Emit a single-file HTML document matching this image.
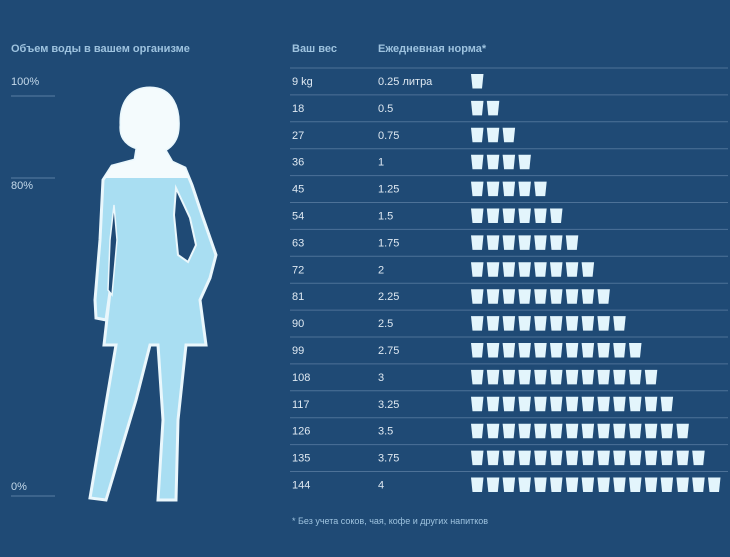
<!DOCTYPE html>
<html><head><meta charset="utf-8"><style>
body{margin:0;background:#1f4a75;width:730px;height:557px;overflow:hidden;font-family:"Liberation Sans",sans-serif}
svg{position:absolute;left:0;top:0}
</style></head><body>
<svg width="730" height="557">
<defs><clipPath id="body"><path id="shape" d="M150,88 C172,88 180,108 178,130 C177,140 172,146 165,150 L172,162 L185,168 L192,185 L202,215 L216,255 L210,278 L200,300 L206,345 L186,345 L178,420 L176,500 L158,500 L163,420 L158,345 L150,345 L136,400 L106,500 L90,498 L116,345 L104,345 L110,292 L106,320 L96,318 L95,300 L100,240 L103,180 L112,166 L135,160 L137,148 C124,144 120,135 121,125 C120,103 130,88 150,88 Z"/></clipPath></defs>
<g>
<use href="#shape" fill="#a9def2" stroke="#eaf7fc" stroke-width="3"/>
<rect x="80" y="80" width="150" height="98" fill="#f4fbfd" clip-path="url(#body)"/>
<path d="M176,188 L190,218 L196,245 L188,262 L178,255 L174,215 Z" fill="#1f4a75" stroke="#eaf7fc" stroke-width="2"/>
<path d="M114,205 L117,240 L112,295 L108,290 L110,240 Z" fill="#1f4a75" stroke="#eaf7fc" stroke-width="1.5"/>
</g>
<text x="11" y="52" fill="#9ec3df" font-size="11" font-weight="bold">Объем воды в вашем организме</text>
<g fill="#c4d9ea" font-size="11">
<text x="11" y="85">100%</text><line x1="11" y1="96" x2="55" y2="96" stroke="#5a7fa3"/>
<text x="11" y="189">80%</text><line x1="11" y1="178" x2="55" y2="178" stroke="#5a7fa3"/>
<text x="11" y="490">0%</text><line x1="11" y1="496" x2="55" y2="496" stroke="#5a7fa3"/>
</g>
<text x="292" y="52" fill="#9ec3df" font-size="11" font-weight="bold">Ваш вес</text>
<text x="378" y="52" fill="#9ec3df" font-size="11" font-weight="bold">Ежедневная норма*</text>
<text x="292" y="524" fill="#9ec3df" font-size="9">* Без учета соков, чая, кофе и других напитков</text>
<g id="rows"></g>
</svg>
<script>
const weights=["9 kg","18","27","36","45","54","63","72","81","90","99","108","117","126","135","144"];
const liters=["0.25 литра","0.5","0.75","1","1.25","1.5","1.75","2","2.25","2.5","2.75","3","3.25","3.5","3.75","4"];
const cups=[1,2,3,4,5,6,7,8,9,10,11,12,13,14,15,16];
const g=document.getElementById('rows');const NS='http://www.w3.org/2000/svg';
function rowY(i){return 81+i*26.9;}
function cupX(j){return 471+j*15.8;}
weights.forEach((w,i)=>{
 const y=rowY(i);
 const ln=document.createElementNS(NS,'line');
 
 
 ln.setAttribute('x1',290);ln.setAttribute('x2',728);ln.setAttribute('y1',y-13);ln.setAttribute('y2',y-13);ln.setAttribute('stroke','#4d7298');g.appendChild(ln);
 const t1=document.createElementNS(NS,'text');
 
 
 t1.setAttribute('x',292);t1.setAttribute('y',y+4);t1.setAttribute('fill','#dfe9f2');t1.setAttribute('font-size','11');t1.textContent=w;g.appendChild(t1);
 const t2=document.createElementNS(NS,'text');
 
 
 t2.setAttribute('x',378);t2.setAttribute('y',y+4);t2.setAttribute('fill','#dfe9f2');t2.setAttribute('font-size','11');t2.textContent=liters[i];g.appendChild(t2);
 for(let j=0;j<cups[i];j++){
  const x=cupX(j);
  const p=document.createElementNS(NS,'path');
  
  
  p.setAttribute('d',`M${x},${y-7} L${x+12.5},${y-7} L${x+11},${y+7.5} L${x+1.5},${y+7.5} Z`);
  p.setAttribute('fill','#e3f5fc');g.appendChild(p);
 }
});
</script>
</body></html>
